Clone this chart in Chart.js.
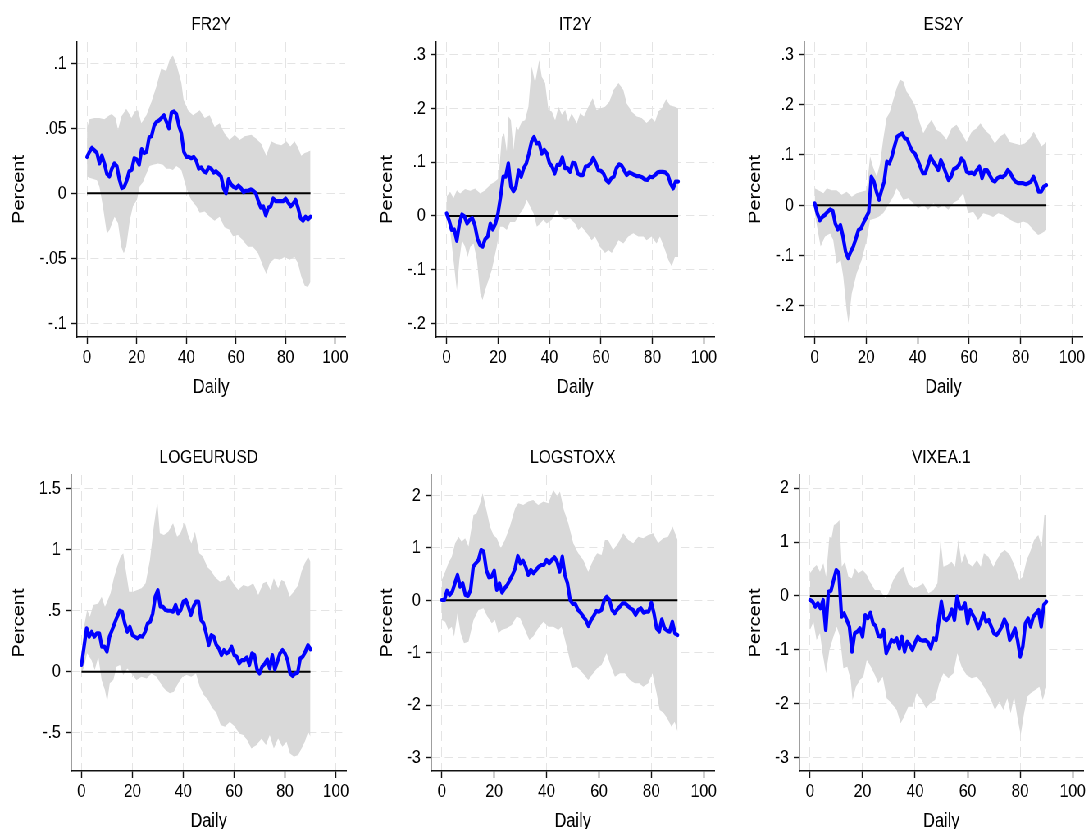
<!DOCTYPE html>
<html><head><meta charset="utf-8">
<script src="https://cdn.jsdelivr.net/npm/chart.js@4.4.1/dist/chart.umd.min.js"></script>
<style>
html,body{margin:0;padding:0;background:#fff;overflow:hidden;width:1086px;height:829px}
#stage{position:absolute;left:0;top:0;width:1340px;height:829px;transform:scaleX(0.82);transform-origin:0 0}
.pane{position:absolute}
.pane canvas{display:block}
</style></head><body><div id="stage"></div>
<script>
// ---------- axis ticks ----------
const xTicks = [0, 20, 40, 60, 80, 100];
const xTickLabels = ['0', '20', '40', '60', '80', '100'];
const zeroLine = [[0, 0], [90, 0]];

const fr2yTicks = [-0.1, -0.05, 0, 0.05, 0.1];
const fr2yTickLabels = ['-.1', '-.05', '0', '.05', '.1'];
const it2yTicks = [-0.2, -0.1, 0, 0.1, 0.2, 0.3];
const it2yTickLabels = ['-.2', '-.1', '0', '.1', '.2', '.3'];
const es2yTicks = [-0.2, -0.1, 0, 0.1, 0.2, 0.3];
const es2yTickLabels = ['-.2', '-.1', '0', '.1', '.2', '.3'];
const eurTicks = [-0.5, 0, 0.5, 1, 1.5];
const eurTickLabels = ['-.5', '0', '.5', '1', '1.5'];
const stoxxTicks = [-3, -2, -1, 0, 1, 2];
const stoxxTickLabels = ['-3', '-2', '-1', '0', '1', '2'];
const vixTicks = [-3, -2, -1, 0, 1, 2];
const vixTickLabels = ['-3', '-2', '-1', '0', '1', '2'];

// ---------- FR2Y ----------
const fr2yMean = [0.028,0.032,0.035,0.033,0.031,0.023,0.029,0.023,0.015,0.013,
0.019,0.023,0.021,0.011,0.004,0.005,0.010,0.017,0.018,0.027,
0.026,0.022,0.034,0.031,0.032,0.043,0.044,0.052,0.055,0.056,
0.058,0.060,0.055,0.050,0.062,0.063,0.061,0.052,0.046,0.032,
0.028,0.028,0.027,0.028,0.025,0.019,0.020,0.017,0.016,0.020,
0.019,0.016,0.017,0.015,0.013,0.004,0.000,0.011,0.007,0.005,
0.004,0.006,0.004,0.001,0.002,0.002,0.003,0.002,0.000,-0.006,
-0.011,-0.010,-0.017,-0.011,-0.010,-0.004,-0.006,-0.006,-0.006,-0.006,
-0.004,-0.007,-0.010,-0.008,-0.005,-0.011,-0.019,-0.021,-0.018,-0.020,-0.018];
const fr2yUpper = [[0,0.050],[1,0.057],[3,0.058],[5,0.058],[7,0.057],[9,0.060],[10,0.061],[11.5,0.058],[12.5,0.049],[13.8,0.059],[15.8,0.065],[17.9,0.058],[19.2,0.063],[20.5,0.064],[21.9,0.054],[23.9,0.060],[25.9,0.070],[27.9,0.082],[29.9,0.096],[31.9,0.094],[33.3,0.103],[34.6,0.106],[36.2,0.098],[38,0.085],[38.9,0.072],[40.7,0.064],[42.7,0.060],[45.4,0.064],[47.4,0.058],[49.4,0.060],[51.4,0.051],[53.4,0.054],[55.4,0.046],[57.4,0.041],[59.5,0.045],[61.5,0.041],[63.5,0.044],[66.2,0.045],[68.2,0.042],[70.2,0.038],[72.2,0.029],[74.2,0.040],[76.2,0.038],[78.3,0.037],[80.3,0.040],[81.9,0.036],[83.6,0.040],[85,0.035],[86.3,0.029],[87.7,0.031],[89,0.032],[90,0.033]];
const fr2yLower = [[0,0.013],[1,0.012],[4,0.010],[5,0.005],[6.4,-0.010],[8,-0.031],[9.1,-0.028],[11.1,-0.018],[12.5,-0.023],[13.8,-0.041],[14.8,-0.046],[15.8,-0.041],[17.2,-0.021],[18.5,-0.010],[20.1,-0.005],[21.2,0.005],[22.6,0.009],[23.9,0.015],[25.2,0.021],[26.6,0.022],[28.6,0.023],[30.6,0.022],[31.9,0.019],[33.3,0.019],[34.6,0.018],[36,0.021],[38,0.018],[39.3,0.009],[40.7,0],[42,-0.005],[44,-0.010],[45.4,-0.015],[47.4,-0.014],[49.4,-0.018],[51.4,-0.021],[53.4,-0.018],[55.4,-0.026],[57.4,-0.028],[58.8,-0.033],[60.8,-0.032],[62.8,-0.036],[64.8,-0.041],[66.8,-0.041],[68.9,-0.046],[70.9,-0.056],[72.2,-0.062],[73.6,-0.054],[75.6,-0.050],[77.6,-0.051],[79.6,-0.049],[81.6,-0.051],[83.6,-0.049],[85,-0.054],[86.3,-0.064],[87.7,-0.071],[89,-0.072],[90,-0.068]];

// ---------- IT2Y ----------
const it2yMean = [0.005,-0.008,-0.026,-0.025,-0.046,-0.014,0.003,-0.001,-0.014,-0.007,
-0.004,-0.017,-0.042,-0.054,-0.057,-0.043,-0.038,-0.014,-0.025,-0.014,
0.005,0.036,0.073,0.073,0.098,0.055,0.046,0.055,0.085,0.073,
0.089,0.098,0.116,0.138,0.147,0.135,0.136,0.116,0.123,0.116,
0.098,0.092,0.079,0.095,0.095,0.109,0.089,0.089,0.082,0.099,
0.098,0.079,0.076,0.076,0.092,0.093,0.098,0.108,0.098,0.085,
0.084,0.079,0.067,0.062,0.070,0.073,0.089,0.096,0.094,0.085,
0.076,0.081,0.079,0.076,0.074,0.074,0.072,0.068,0.067,0.073,
0.072,0.076,0.081,0.082,0.082,0.081,0.076,0.061,0.051,0.064,0.064];
const it2yUpper = [[0,0.036],[1.4,0.045],[2.7,0.033],[4,0.048],[5.3,0.042],[7.2,0.050],[9.2,0.047],[11.1,0.051],[13.1,0.042],[15,0.048],[16.9,0.058],[18.9,0.064],[20.2,0.070],[21.5,0.147],[22.4,0.154],[23.4,0.120],[24.1,0.185],[25,0.178],[26,0.123],[27,0.166],[27.9,0.160],[29.2,0.175],[30.5,0.178],[31.8,0.203],[33.1,0.278],[34.4,0.247],[36,0.290],[37,0.259],[38.3,0.247],[39.6,0.197],[40.9,0.194],[42.2,0.178],[43.5,0.203],[44.8,0.188],[46.1,0.197],[47.3,0.175],[48.6,0.191],[50.6,0.172],[51.9,0.191],[53.4,0.185],[55.1,0.203],[56.8,0.219],[58.3,0.197],[59.6,0.200],[61.6,0.203],[63.3,0.213],[64.9,0.234],[66.8,0.247],[68.7,0.234],[70,0.209],[71.9,0.194],[73.9,0.185],[75.8,0.182],[77.7,0.173],[79.7,0.182],[81,0.175],[82.3,0.194],[83.6,0.200],[85.3,0.217],[86.8,0.206],[88.7,0.203],[90,0.200]];
const it2yLower = [[0,0.017],[1.4,-0.026],[2.7,-0.082],[4,-0.138],[5,-0.082],[6,-0.045],[7.2,-0.057],[8.2,-0.076],[9.2,-0.057],[10.5,-0.051],[11.8,-0.082],[13.1,-0.144],[14,-0.156],[15,-0.138],[16.3,-0.119],[17.6,-0.100],[19.5,-0.057],[20.8,-0.020],[22.1,-0.020],[23.4,-0.026],[24.7,-0.011],[26.6,-0.011],[28.6,0.005],[29.9,0.014],[31.2,0.030],[32.5,0.017],[33.8,0.005],[35.1,-0.020],[36.4,-0.014],[37.6,-0.007],[38.9,-0.014],[40.9,-0.007],[42.8,0.011],[44.1,-0.001],[46.1,-0.007],[48,-0.004],[49.9,-0.014],[51.2,-0.026],[52.5,-0.020],[54.5,-0.032],[56.4,-0.045],[57.7,-0.038],[59.6,-0.057],[61.6,-0.069],[62.9,-0.063],[64.2,-0.069],[65.5,-0.057],[66.8,-0.045],[68.7,-0.051],[70.6,-0.038],[72.6,-0.032],[74.5,-0.038],[76.5,-0.038],[77.7,-0.045],[79.7,-0.038],[81.6,-0.051],[82.9,-0.038],[84.9,-0.063],[86.2,-0.082],[87.5,-0.094],[88.7,-0.076],[90,-0.076]];

// ---------- ES2Y ----------
const es2yMean = [0.004,-0.016,-0.030,-0.023,-0.019,-0.013,-0.008,-0.011,-0.036,-0.048,
-0.039,-0.062,-0.092,-0.105,-0.092,-0.082,-0.066,-0.049,-0.046,-0.034,
-0.024,-0.013,0.057,0.047,0.027,0.011,0.030,0.047,0.087,0.083,
0.097,0.117,0.136,0.140,0.143,0.133,0.131,0.117,0.107,0.102,
0.090,0.077,0.064,0.064,0.080,0.097,0.087,0.080,0.070,0.090,
0.078,0.064,0.050,0.057,0.072,0.074,0.080,0.093,0.087,0.067,
0.064,0.065,0.062,0.070,0.077,0.054,0.070,0.070,0.060,0.050,
0.047,0.054,0.057,0.056,0.060,0.070,0.064,0.054,0.047,0.044,
0.044,0.044,0.042,0.044,0.047,0.057,0.044,0.027,0.027,0.037,0.040];
const es2yUpper = [[0,0.034],[1.4,0.030],[3.4,0.024],[4.7,0.034],[6.6,0.030],[8.5,0.030],[10.5,0.021],[12.4,0.027],[14.4,0.017],[16.3,0.024],[18.2,0.027],[20.2,0.030],[21.5,0.097],[22.8,0.074],[24.1,0.057],[25.4,0.083],[26.6,0.130],[27.9,0.173],[29.2,0.186],[30.5,0.209],[31.8,0.232],[33.1,0.250],[34.4,0.246],[35.7,0.226],[37,0.216],[38.9,0.199],[40.9,0.163],[42.2,0.143],[43.5,0.156],[45.4,0.170],[47.3,0.150],[49.3,0.143],[51.2,0.130],[53.2,0.153],[55.1,0.160],[57.1,0.143],[59,0.126],[61,0.146],[62.9,0.153],[64.4,0.163],[66.1,0.150],[68,0.140],[70,0.123],[71.9,0.136],[73.9,0.143],[75.8,0.126],[77.7,0.123],[79.7,0.120],[81.6,0.123],[83.6,0.133],[85.1,0.146],[86.8,0.130],[88.1,0.117],[90,0.126]];
const es2yLower = [[0,-0.016],[1.4,-0.056],[2.3,-0.082],[4,-0.062],[6,-0.056],[7.2,-0.069],[8.5,-0.116],[10.1,-0.109],[11.1,-0.142],[12.4,-0.208],[13.1,-0.234],[14.4,-0.175],[16.3,-0.135],[18.2,-0.109],[20.2,-0.069],[21.5,-0.029],[23.4,-0.026],[24.7,-0.023],[26.6,-0.016],[28.6,0.001],[30.5,0.017],[31.8,0.034],[33.1,0.024],[34.4,0.011],[36.4,0.014],[38.3,0.004],[40.2,-0.006],[42.2,0.001],[44.1,-0.009],[46.1,0.004],[48,-0.006],[49.9,0.001],[51.9,-0.009],[53.8,0.004],[55.8,0.011],[57.7,0.024],[59.6,-0.016],[61.6,-0.013],[63.5,-0.029],[65.5,-0.016],[67.4,-0.019],[69.3,-0.023],[71.3,-0.016],[73.2,-0.019],[75.2,-0.026],[77.1,-0.032],[79,-0.036],[81,-0.032],[82.9,-0.036],[84.9,-0.049],[86.8,-0.059],[88.1,-0.056],[90,-0.049]];

// ---------- LOGEURUSD ----------
const eurMean = [0.055,0.205,0.355,0.286,0.327,0.286,0.314,0.314,0.205,0.205,
0.164,0.286,0.341,0.396,0.450,0.499,0.491,0.396,0.327,0.368,
0.300,0.286,0.273,0.292,0.286,0.327,0.396,0.409,0.477,0.614,
0.668,0.532,0.532,0.505,0.499,0.499,0.491,0.546,0.477,0.505,
0.573,0.587,0.532,0.464,0.532,0.573,0.573,0.423,0.396,0.314,
0.218,0.300,0.286,0.218,0.191,0.136,0.177,0.150,0.164,0.205,
0.136,0.123,0.068,0.095,0.095,0.117,0.055,0.150,0.136,0.019,
-0.014,0.041,0.063,0.101,0.027,0.136,0.019,0.082,0.150,0.177,
0.150,0.095,-0.014,-0.035,-0.014,-0.008,0.109,0.123,0.164,0.218,0.183];
const eurUpper = [[0,0.150],[1,0.368],[2.2,0.505],[3.3,0.450],[4.6,0.546],[6.6,0.559],[7.9,0.614],[9.2,0.532],[10.1,0.573],[11.4,0.641],[12.7,0.764],[14,0.859],[15.3,0.941],[16.4,0.969],[17.4,0.832],[18.7,0.655],[20.3,0.655],[21.9,0.668],[23.6,0.682],[25.2,0.723],[26.9,0.914],[28.4,1.187],[29.8,1.392],[30.8,1.132],[32.4,1.119],[34.1,1.146],[36,1.214],[37.6,1.105],[38.9,1.132],[40.6,1.228],[41.9,1.119],[43.2,1.050],[44.6,1.146],[46.3,0.969],[47.8,0.941],[49.4,0.859],[51.1,0.819],[52.4,0.778],[54.4,0.737],[56.4,0.750],[57.7,0.791],[59.6,0.723],[61.6,0.668],[63.6,0.709],[65.5,0.696],[67.5,0.723],[69.5,0.628],[71.4,0.723],[72.7,0.737],[74.3,0.668],[75.6,0.764],[77.3,0.682],[78.6,0.750],[79.9,0.737],[81.9,0.614],[83.9,0.668],[85.2,0.709],[86.5,0.819],[87.8,0.887],[89.1,0.941],[90,0.900]];
const eurLower = [[0,-0.014],[1,0.041],[2.2,0.150],[3.9,0.095],[5.2,0.014],[6.6,0.123],[7.9,-0.068],[9.2,-0.150],[10.1,-0.246],[11.1,-0.095],[12.5,-0.068],[13.8,0.041],[15.1,0.055],[16.4,-0.027],[18,0.027],[19.7,-0.014],[21.6,-0.068],[23.6,-0.041],[25.6,-0.055],[27.5,-0.014],[29.5,-0.041],[31.5,-0.109],[33,-0.150],[34.7,-0.177],[36.3,-0.164],[38,-0.095],[39.7,-0.041],[41.3,-0.027],[43.2,-0.041],[45,-0.014],[46.5,-0.123],[48.1,-0.191],[49.8,-0.232],[51.1,-0.286],[53.1,-0.341],[54.7,-0.437],[56.4,-0.450],[58.3,-0.409],[60.3,-0.450],[62,-0.505],[63.6,-0.518],[65.1,-0.559],[66.8,-0.628],[68.8,-0.600],[70.8,-0.546],[72.5,-0.600],[74,-0.518],[75.6,-0.628],[77.3,-0.546],[79,-0.614],[80.6,-0.573],[81.9,-0.668],[83.5,-0.696],[85.2,-0.682],[86.5,-0.628],[87.8,-0.573],[89.1,-0.491],[90,-0.532]];

// ---------- LOGSTOXX ----------
const stoxxMean = [0.006,0.006,0.184,0.102,0.165,0.324,0.483,0.260,0.324,0.102,
0.083,0.197,0.642,0.705,0.769,0.959,0.928,0.578,0.438,0.451,
0.565,0.197,0.324,0.146,0.229,0.292,0.388,0.483,0.610,0.845,
0.705,0.756,0.642,0.483,0.578,0.515,0.578,0.642,0.673,0.673,
0.769,0.705,0.769,0.820,0.737,0.546,0.832,0.483,0.324,0.006,
-0.070,-0.070,-0.184,-0.235,-0.311,-0.375,-0.489,-0.375,-0.299,-0.203,
-0.216,-0.184,0.006,0.070,0.006,-0.184,-0.248,-0.172,-0.121,-0.057,
-0.057,-0.108,-0.152,-0.184,-0.280,-0.184,-0.152,-0.235,-0.216,-0.216,
-0.044,-0.248,-0.534,-0.597,-0.362,-0.534,-0.578,-0.597,-0.407,-0.629,-0.661];
const stoxxUpper = [[0,0.388],[1.3,0.546],[2.5,0.705],[3.8,0.832],[5.1,1.086],[6.4,1.213],[7.6,1.118],[8.9,1.182],[10.2,1.023],[12.1,1.626],[13.3,1.658],[14.6,1.849],[15.6,2.039],[16.9,1.754],[18.4,1.404],[19.7,1.245],[21,1.182],[22.5,0.991],[24.1,1.150],[26,1.404],[28,1.754],[29.2,1.849],[31.1,1.817],[33,1.881],[34.9,1.912],[36.8,1.817],[38.8,1.881],[40.7,1.849],[42.6,2.103],[44.1,1.976],[45.1,2.071],[46.6,1.722],[48.3,1.468],[50.2,1.086],[52.1,0.896],[54,0.769],[55.9,0.546],[57.8,0.769],[59.3,0.896],[61,0.864],[62.3,1.150],[63.5,1.150],[65.4,0.959],[67.3,1.086],[69.3,1.277],[71.2,1.150],[73.1,1.086],[75,1.213],[76.9,1.182],[78.8,1.245],[80.7,1.277],[82.6,1.086],[84.5,1.182],[86.4,1.213],[88.1,1.404],[90,1.150]];
const stoxxLower = [[0,-0.375],[1.3,-0.407],[2.5,-0.565],[3.8,-0.502],[4.7,-0.692],[6,-0.248],[7.2,-0.629],[8.5,-0.820],[10.2,-0.788],[12.1,-0.375],[14,-0.184],[15.9,-0.152],[17.4,-0.311],[19.1,-0.438],[20.3,-0.375],[21.6,-0.629],[22.9,-0.565],[24.8,-0.534],[26.7,-0.470],[28.6,-0.311],[29.9,-0.343],[31.8,-0.565],[33.4,-0.756],[34.9,-0.692],[36.8,-0.534],[38.8,-0.407],[40.7,-0.502],[42.6,-0.502],[44.5,-0.565],[45.7,-0.502],[46.6,-0.661],[48.3,-1.010],[49.6,-1.296],[51.5,-1.264],[53.4,-1.360],[55.9,-1.518],[57.8,-1.391],[59.3,-1.296],[61,-1.233],[62.9,-1.010],[64.4,-1.233],[66.1,-1.455],[68,-1.391],[69.9,-1.391],[71.8,-1.518],[73.7,-1.582],[75.4,-1.582],[76.9,-1.645],[78.8,-1.582],[80.4,-1.391],[82,-1.773],[83.2,-2.090],[84.8,-2.154],[86.4,-2.281],[87.7,-2.408],[88.9,-2.313],[90,-2.503]];

// ---------- VIXEA.1 ----------
const vixMean = [-0.074,-0.105,-0.198,-0.136,-0.229,-0.074,-0.631,0.080,0.099,0.297,
0.483,0.421,-0.384,-0.322,-0.446,-0.569,-1.033,-0.693,-0.662,-0.600,
-0.755,-0.353,-0.415,-0.309,-0.507,-0.557,-0.743,-0.755,-0.631,-1.064,
-0.941,-0.817,-0.848,-0.786,-0.972,-0.755,-1.033,-0.848,-0.910,-1.002,
-0.866,-0.755,-0.817,-0.829,-0.817,-0.866,-0.972,-0.786,-0.817,-0.476,
-0.105,-0.415,-0.446,-0.384,-0.248,-0.446,-0.012,-0.229,-0.229,-0.136,
-0.507,-0.260,-0.353,-0.446,-0.600,-0.476,-0.322,-0.476,-0.446,-0.569,
-0.693,-0.724,-0.662,-0.569,-0.433,-0.538,-0.817,-0.724,-0.600,-0.817,
-1.126,-0.941,-0.507,-0.415,-0.569,-0.384,-0.322,-0.260,-0.569,-0.167,-0.105];
const vixUpper = [[0,0.421],[1.3,0.514],[2.5,0.575],[3.8,0.452],[5.1,0.606],[6.1,0.359],[7.4,1.101],[8.2,1.071],[9.1,1.318],[10.2,1.349],[11.2,1.411],[12.1,0.545],[13.3,0.637],[14.6,0.359],[15.9,0.328],[17.1,0.514],[18.4,0.421],[20.1,0.483],[21.6,0.390],[22.8,0.266],[24.7,0.111],[26.6,0.111],[28.6,-0.043],[29.8,0.050],[31.7,0.297],[33.6,0.452],[35.5,0.545],[37.4,0.235],[39.3,0.142],[41.2,0.173],[43.1,0.235],[45.1,0.050],[47,0.111],[48.5,0.235],[49.7,1.040],[50.8,0.545],[52.3,0.575],[53.9,0.637],[55.2,0.545],[56.5,1.040],[57.7,0.606],[59,0.792],[60.3,0.606],[61.9,0.545],[63.5,0.668],[65,0.545],[66.2,0.792],[67.9,0.730],[69.8,0.545],[71.1,0.668],[72.6,0.792],[74.2,0.854],[76.1,0.761],[78,0.545],[79.7,0.297],[81,0.359],[82.5,0.668],[83.8,0.823],[85.3,1.040],[86.9,1.132],[88.2,0.916],[89.2,1.504],[90,1.504]];
const vixLower = [[0,-0.631],[1.3,-0.476],[2.5,-0.817],[3.8,-0.693],[4.8,-1.064],[6.1,-1.436],[7.4,-1.002],[8.9,-0.755],[10.2,-0.569],[11.4,-0.755],[12.7,-1.343],[14.2,-1.312],[15.5,-1.559],[16.2,-1.931],[17.5,-1.683],[19,-1.559],[20.3,-1.498],[21.6,-1.188],[22.8,-1.281],[24.4,-1.436],[26,-1.621],[27.7,-1.498],[29.2,-1.900],[31.1,-1.993],[33,-2.116],[34.5,-2.364],[35.8,-2.240],[37.4,-2.054],[39.1,-2.054],[40.6,-1.807],[42.5,-1.931],[44.2,-2.085],[45.7,-1.993],[47.6,-1.931],[49.2,-1.621],[50.8,-1.436],[52.7,-1.528],[54.6,-1.436],[56.1,-1.064],[57.7,-1.312],[59.6,-1.467],[61.5,-1.528],[63.5,-1.498],[65.4,-1.621],[67.3,-1.776],[69.2,-1.962],[70.4,-2.116],[72.1,-1.962],[73.6,-2.116],[75.1,-1.900],[76.4,-2.178],[77.7,-1.869],[78.9,-2.240],[80.2,-2.580],[81.5,-2.178],[82.7,-1.869],[84,-1.807],[85.7,-1.745],[87.3,-1.683],[88.6,-1.931],[90,-1.683]];

// ---------- panel layout (inner coordinates, stage is scaled by 0.82 horizontally) ----------
const panels = [
  {title:'FR2Y', mean:fr2yMean, up:fr2yUpper, lo:fr2yLower, yt:fr2yTicks, yl:fr2yTickLabels, yMin:-0.1105, yMax:0.1164, left:9.4, top:0, W:85, PW:327, PH:295},
  {title:'IT2Y', mean:it2yMean, up:it2yUpper, lo:it2yLower, yt:it2yTicks, yl:it2yTickLabels, yMin:-0.2249, yMax:0.3234, left:457.7, top:0, W:74, PW:339, PH:295},
  {title:'ES2Y', mean:es2yMean, up:es2yUpper, lo:es2yLower, yt:es2yTicks, yl:es2yTickLabels, yMin:-0.2616, yMax:0.3244, left:907, top:0, W:74, PW:339, PH:295},
  {title:'LOGEURUSD', mean:eurMean, up:eurUpper, lo:eurLower, yt:eurTicks, yl:eurTickLabels, yMin:-0.8126, yMax:1.6097, left:9.2, top:433, W:78, PW:335, PH:296},
  {title:'LOGSTOXX', mean:stoxxMean, up:stoxxUpper, lo:stoxxLower, yt:stoxxTicks, yl:stoxxTickLabels, yMin:-3.2527, yMax:2.3876, left:457.9, top:433, W:68, PW:345, PH:296},
  {title:'VIXEA.1', mean:vixMean, up:vixUpper, lo:vixLower, yt:vixTicks, yl:vixTickLabels, yMin:-3.248, yMax:2.2457, left:907, top:433, W:68, PW:346, PH:296}
];

const FONT = '"Liberation Sans", Arial, Helvetica, sans-serif';
const TXT = '#000000';
const AXIS = '#111111';
const GRID = '#e4e4e4';
const BAND = '#d9d9d9';
const RIGHTPAD = 12, TITLEH = 42, XAXH = 64;

Chart.defaults.font.family = FONT;
Chart.defaults.color = TXT;

const stage = document.getElementById('stage');
const toXY = pairs => pairs.map(p => ({x: p[0], y: p[1]}));

panels.forEach(p => {
  const div = document.createElement('div');
  div.className = 'pane';
  const cw = p.W + p.PW + RIGHTPAD;
  const ch = TITLEH + p.PH + XAXH;
  div.style.left = p.left + 'px';
  div.style.top = p.top + 'px';
  div.style.width = cw + 'px';
  div.style.height = ch + 'px';
  const cv = document.createElement('canvas');
  cv.width = cw; cv.height = ch;
  cv.style.width = cw + 'px'; cv.style.height = ch + 'px';
  div.appendChild(cv);
  stage.appendChild(div);

  new Chart(cv.getContext('2d'), {
    type: 'line',
    data: {
      datasets: [
        {data: p.mean.map((v, i) => ({x: i, y: v})), borderColor: '#0000ff', borderWidth: 4.2, pointRadius: 0, fill: false, tension: 0, borderJoinStyle: 'round', borderCapStyle: 'round'},
        {data: toXY(zeroLine), borderColor: '#000000', borderWidth: 2, pointRadius: 0, fill: false},
        {data: toXY(p.up), borderWidth: 0, borderColor: 'rgba(0,0,0,0)', backgroundColor: BAND, pointRadius: 0, fill: '+1', tension: 0},
        {data: toXY(p.lo), borderWidth: 0, borderColor: 'rgba(0,0,0,0)', pointRadius: 0, fill: false, tension: 0}
      ]
    },
    options: {
      responsive: false,
      animation: false,
      devicePixelRatio: 1,
      layout: {padding: {left: 0, right: RIGHTPAD, top: 0, bottom: 0}},
      plugins: {
        legend: {display: false},
        tooltip: {enabled: false},
        title: {display: true, text: p.title, fullSize: false, color: TXT,
          font: {size: 19, weight: 'normal', lineHeight: 1.2}, padding: {top: 13.1, bottom: 6.1}}
      },
      scales: {
        x: {
          type: 'linear', min: -4, max: 104,
          afterBuildTicks: s => { s.ticks = xTicks.map(v => ({value: v})); },
          afterFit: s => { s.height = XAXH; },
          ticks: {callback: (v, i) => xTickLabels[i], font: {size: 19}, color: TXT, padding: 2.4, maxRotation: 0, autoSkip: false},
          grid: {color: GRID, lineWidth: 1, drawTicks: true, tickLength: 7, tickColor: AXIS, tickWidth: 1.4},
          border: {display: true, color: AXIS, width: 1.4, dash: [10, 6]},
          title: {display: true, text: 'Daily', color: TXT, font: {size: 20, lineHeight: 1.2}, padding: {top: 0, bottom: 2}}
        },
        y: {
          type: 'linear', min: p.yMin, max: p.yMax,
          afterBuildTicks: s => { s.ticks = p.yt.map(v => ({value: v})); },
          afterFit: s => { s.width = p.W; },
          ticks: {callback: (v, i) => p.yl[i], font: {size: 19}, color: TXT, padding: 6, autoSkip: false},
          grid: {color: GRID, lineWidth: 1, drawTicks: true, tickLength: 7, tickColor: AXIS, tickWidth: 1.4},
          border: {display: true, color: AXIS, width: 1.4, dash: [10, 6]},
          title: {display: true, text: 'Percent', color: TXT, font: {size: 20, lineHeight: 1.2}, padding: {top: 2, bottom: 0}}
        }
      }
    }
  });
});
</script></body></html>
